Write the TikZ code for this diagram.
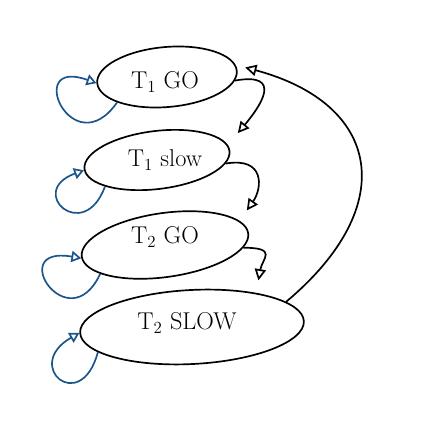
\documentclass[tikz,border=0pt]{standalone}
\usepackage{amsmath, amssymb}
\usetikzlibrary{shapes.geometric, arrows.meta}
\definecolor{loopblue}{RGB}{28,84,140}

\begin{document}
\begin{tikzpicture}[x = 0.025cm, y = 0.025cm]
\tikzstyle{stateStyle} = [shape = ellipse, draw, line width = 1.2pt, inner sep = 0pt]
\tikzstyle{textStyle} = [font = \LARGE]
\tikzstyle{loopStyle} = [draw = loopblue, line width = 1.2pt, -{Triangle[open, length = 7pt, width = 8pt]}]
\tikzstyle{moveStyle} = [line width = 1.2pt, -{Triangle[open, length = 8pt, width = 8pt]}]
\useasboundingbox (0,0) rectangle (424,434);
% the four states
\node[stateStyle, minimum width = 3.5cm, minimum height = 1.5cm, rotate = 5] (s1) at (167,357) {};
\node[stateStyle, minimum width = 3.65cm, minimum height = 1.45cm, rotate = 7] (s2) at (157,274) {};
\node[stateStyle, minimum width = 4.2cm, minimum height = 1.6cm, rotate = 8] (s3) at (165,189) {};
\node[stateStyle, minimum width = 5.6cm, minimum height = 1.85cm, rotate = 3] (s4) at (192,107) {};
\node[textStyle] (t1) at (165,352) {T$_1$ GO};
\node[textStyle] (t2) at (165,274) {T$_1$ slow};
\node[textStyle] (t3) at (165,197) {T$_2$ GO};
\node[textStyle] (t4) at (187,111) {T$_2$ SLOW};
% staying in a state
\draw[loopStyle] (s1.202) .. controls +(235:78) and +(160:78) .. (s1.180);
\draw[loopStyle] (s2.200) .. controls +(250:62) and +(200:62) .. (s2.181);
\draw[loopStyle] (s3.196) .. controls +(245:75) and +(170:78) .. (s3.181);
\draw[loopStyle] (s4.192) .. controls +(255:66) and +(210:66) .. (s4.180);
% moving on
\draw[moveStyle, shorten > = 11pt] (s1.352) .. controls +(10:50) and +(50:50) .. (s2.5);
\draw[moveStyle, shorten > = 9pt] (s2.350) .. controls +(10:40) and +(55:40) .. (s3.10);
\draw[moveStyle, shorten > = 9pt] (s3.350) .. controls +(0:35) and +(80:35) .. (s4.25);
\draw[moveStyle, shorten > = 7pt] (s4.12) .. controls +(40:150) and +(-15:150) .. (s1.5);
\end{tikzpicture}
\end{document}
